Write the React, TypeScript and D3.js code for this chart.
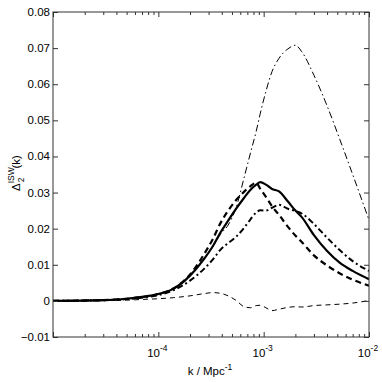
import React, { useEffect, useRef } from 'react';
import * as d3 from 'd3';

// wavenumber grid, Mpc^-1
const kGrid = [1e-5, 2e-5, 3e-5, 5e-5, 7e-5, 1e-4, 1.4e-4, 2e-4, 2.7e-4, 3.3e-4, 3.9e-4, 4.6e-4, 5.5e-4, 6.5e-4,
  7.5e-4, 8.5e-4, 9.3e-4, 1.05e-3, 1.2e-3, 1.4e-3, 1.7e-3, 2e-3, 2.3e-3, 3e-3, 4e-3, 5.3e-3, 7e-3, 1e-2];

const solidThick = [0, 0.0001, 0.0002, 0.0006, 0.0011, 0.0019, 0.0034, 0.007, 0.0115, 0.0152, 0.019, 0.0222, 0.0256, 0.0285,
  0.0308, 0.0322, 0.0329, 0.0322, 0.031, 0.0303, 0.0275, 0.025, 0.0232, 0.0182, 0.0138, 0.0105, 0.0083, 0.006];

const dashedThick = [0, 0.0001, 0.0002, 0.0006, 0.0011, 0.0019, 0.0035, 0.0073, 0.0128, 0.0172, 0.0216, 0.025, 0.028, 0.0302,
  0.0318, 0.0327, 0.031, 0.0288, 0.0262, 0.0238, 0.0205, 0.0181, 0.0163, 0.0126, 0.0098, 0.0076, 0.0059, 0.0042];

const dashDotThick = [0, 0.0001, 0.0002, 0.0005, 0.0009, 0.0016, 0.003, 0.0056, 0.0088, 0.0115, 0.0142, 0.016, 0.0178, 0.0202,
  0.0226, 0.0245, 0.0251, 0.025, 0.0258, 0.0266, 0.0255, 0.0249, 0.0242, 0.0213, 0.0175, 0.014, 0.011, 0.0083];

const dashDotThin = [0, 0.0001, 0.0002, 0.0006, 0.0011, 0.0019, 0.0034, 0.0068, 0.0118, 0.015, 0.0185, 0.021, 0.026, 0.034,
  0.041, 0.047, 0.052, 0.058, 0.0635, 0.0672, 0.0698, 0.0708, 0.069, 0.0625, 0.054, 0.0446, 0.035, 0.0224];

const dashedThin = [0, 0, 0.0001, 0.0002, 0.0004, 0.0006, 0.0009, 0.0014, 0.002, 0.0023, 0.0021, 0.0014, 0.0001, -0.0016,
  -0.0019, -0.0013, -0.0012, -0.0019, -0.0027, -0.0023, -0.0018, -0.0016, -0.0017, -0.0013, -0.0011, -0.0009, -0.0006, 0.0001];

const yTicks = [-0.01, 0, 0.01, 0.02, 0.03, 0.04, 0.05, 0.06, 0.07, 0.08];
const xMajor = [1e-5, 1e-4, 1e-3, 1e-2];
const xLabels = [[1e-4, '-4'], [1e-3, '-3'], [1e-2, '-2']];

const App = () => {
  const svgRef = useRef<SVGSVGElement>(null);

  useEffect(() => {
    const svg = d3.select(svgRef.current);
    svg.selectAll('*').remove();

    const left = 53, right = 369, top = 12, bottom = 337;
    const font = 'Liberation Sans, Arial, sans-serif';

    const x = d3.scaleLog().domain([1e-5, 1e-2]).range([left, right]);
    const y = d3.scaleLinear().domain([-0.01, 0.08]).range([bottom, top]);

    const xMinor: number[] = [];
    for (let e = -5; e < -2; e++) {
      for (let m = 2; m <= 9; m++) xMinor.push(m * Math.pow(10, e));
    }

    svg.append('defs').append('clipPath').attr('id', 'plotclip')
      .append('rect').attr('x', left).attr('y', top).attr('width', right - left).attr('height', bottom - top);

    // curves
    const series = [
      { values: dashedThin, width: 1, dash: '5,4' },
      { values: dashDotThin, width: 1, dash: '7,3,1.5,3' },
      { values: dashDotThick, width: 2, dash: '6,3,2,3' },
      { values: dashedThick, width: 2.2, dash: '6,4' },
      { values: solidThick, width: 2.2, dash: null },
    ];

    const line = d3.line<number>()
      .x((d, i) => x(kGrid[i]))
      .y(d => y(d))
      .curve(d3.curveMonotoneX);

    const g = svg.append('g').attr('clip-path', 'url(#plotclip)');
    series.forEach(s => {
      g.append('path')
        .datum(s.values)
        .attr('d', line)
        .attr('fill', 'none')
        .attr('stroke', '#000')
        .attr('stroke-width', s.width)
        .attr('stroke-dasharray', s.dash)
        .attr('stroke-linejoin', 'round');
    });

    const axisColor = '#333';
    const styleAxis = (sel) => {
      sel.select('.domain').remove();
      sel.selectAll('line').attr('stroke', axisColor);
      sel.selectAll('text').remove();
    };

    // inward ticks on all four sides
    svg.append('g').attr('transform', `translate(0,${bottom})`)
      .call(d3.axisBottom(x).tickValues(xMajor).tickSize(-5).tickSizeOuter(0)).call(styleAxis);
    svg.append('g').attr('transform', `translate(0,${bottom})`)
      .call(d3.axisBottom(x).tickValues(xMinor).tickSize(-3).tickSizeOuter(0)).call(styleAxis);
    svg.append('g').attr('transform', `translate(0,${top})`)
      .call(d3.axisTop(x).tickValues(xMajor).tickSize(-5).tickSizeOuter(0)).call(styleAxis);
    svg.append('g').attr('transform', `translate(0,${top})`)
      .call(d3.axisTop(x).tickValues(xMinor).tickSize(-3).tickSizeOuter(0)).call(styleAxis);
    svg.append('g').attr('transform', `translate(${left},0)`)
      .call(d3.axisLeft(y).tickValues(yTicks).tickSize(-5).tickSizeOuter(0)).call(styleAxis);
    svg.append('g').attr('transform', `translate(${right},0)`)
      .call(d3.axisRight(y).tickValues(yTicks).tickSize(-5).tickSizeOuter(0)).call(styleAxis);

    svg.append('rect')
      .attr('x', left).attr('y', top)
      .attr('width', right - left).attr('height', bottom - top)
      .attr('fill', 'none').attr('stroke', axisColor).attr('stroke-width', 1);

    // y tick labels
    svg.append('g').selectAll('text')
      .data(yTicks)
      .enter()
      .append('text')
      .attr('x', left - 3)
      .attr('y', d => y(d) + 4)
      .attr('text-anchor', 'end')
      .style('font-family', font)
      .style('font-size', '11.5px')
      .text(d => (d === 0 ? '0' : d < 0 ? '\u2212' + Math.abs(d).toFixed(2) : d.toFixed(2)));

    // x tick labels 10^n
    const xl = svg.append('g').selectAll('text')
      .data(xLabels)
      .enter()
      .append('text')
      .attr('x', d => x(d[0] as number) - 1)
      .attr('y', 357)
      .attr('text-anchor', 'middle')
      .style('font-family', font)
      .style('font-size', '11.5px');
    xl.append('tspan').text('10');
    xl.append('tspan').attr('dy', -6).style('font-size', '8.5px').text(d => d[1] as string);

    // x axis title
    const xt = svg.append('text')
      .attr('x', 210)
      .attr('y', 375)
      .attr('text-anchor', 'middle')
      .style('font-family', font)
      .style('font-size', '11.5px');
    xt.append('tspan').text('k / Mpc');
    xt.append('tspan').attr('dy', -5).style('font-size', '8.5px').text('-1');

    // y axis title
    const yt = svg.append('text')
      .attr('transform', 'translate(20,173) rotate(-90)')
      .attr('text-anchor', 'middle')
      .style('font-family', font)
      .style('font-size', '11.5px');
    yt.append('tspan').text('\u0394');
    yt.append('tspan').attr('dy', -6).style('font-size', '8.5px').text('ISW');
    yt.append('tspan').attr('dx', -15).attr('dy', 10).style('font-size', '8.5px').text('2');
    yt.append('tspan').attr('dx', 9).attr('dy', -4).text('(k)');
  }, []);

  return <svg ref={svgRef} width={382} height={382} style={{ position: 'absolute', left: 0, top: 0, background: '#fff' }}></svg>;
};

export default App;
